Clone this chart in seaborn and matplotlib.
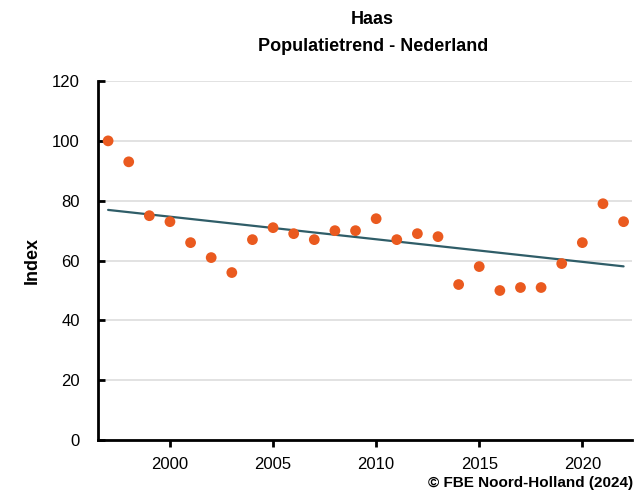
import matplotlib
matplotlib.use("Agg")
import matplotlib.pyplot as plt
import seaborn as sns
import pandas as pd

years = list(range(1997, 2023))
index_values = [100, 93, 75, 73, 66, 61, 56, 67, 71, 69, 67, 70, 70, 74, 67, 69, 68,
                52, 58, 50, 51, 51, 59, 66, 79, 73]
y_ticks = [0, 20, 40, 60, 80, 100, 120]
x_ticks = [2000, 2005, 2010, 2015, 2020]

df = pd.DataFrame({"Jaar": years, "Index": index_values})

sns.set_style("white")
plt.rcParams["font.family"] = ["Liberation Sans", "DejaVu Sans"]

fig = plt.figure(figsize=(6.35, 4.94), dpi=100)
ax = fig.add_axes([0.154, 0.109, 0.841, 0.727])

for t in y_ticks:
    ax.axhline(t, color="#dddddd", lw=1.2, zorder=0)

sns.regplot(data=df, x="Jaar", y="Index", ax=ax, ci=None, scatter=False,
            line_kws={"color": "#2f5d68", "lw": 1.6, "zorder": 2})
sns.scatterplot(data=df, x="Jaar", y="Index", ax=ax, color="#ea5a1f", s=60,
                edgecolor="none", zorder=3)

ax.set_xlim(1996.5, 2022.4)
ax.set_ylim(0, 120)
ax.set_yticks(y_ticks)
ax.set_xticks(x_ticks)
ax.tick_params(axis="both", length=5, width=2, color="black",
               labelsize=12, labelcolor="black", left=True, bottom=True)
ax.tick_params(axis="y", direction="in", pad=13)
ax.tick_params(axis="x", direction="out", pad=7)
for s in ["top", "right"]:
    ax.spines[s].set_visible(False)
for s in ["left", "bottom"]:
    ax.spines[s].set_color("black")
    ax.spines[s].set_linewidth(2)

ax.set_xlabel("")
ax.set_ylabel("Index", fontsize=13, fontweight="bold", labelpad=8, color="black")
fig.suptitle("Haas\nPopulatietrend - Nederland", fontsize=13, fontweight="bold",
             x=0.587, y=0.978, linespacing=1.75, color="black")
fig.text(0.997, 0.008, "© FBE Noord-Holland (2024)", ha="right", va="bottom",
         fontsize=11, fontweight="bold", color="black")

fig.savefig("out.png", dpi=100)
